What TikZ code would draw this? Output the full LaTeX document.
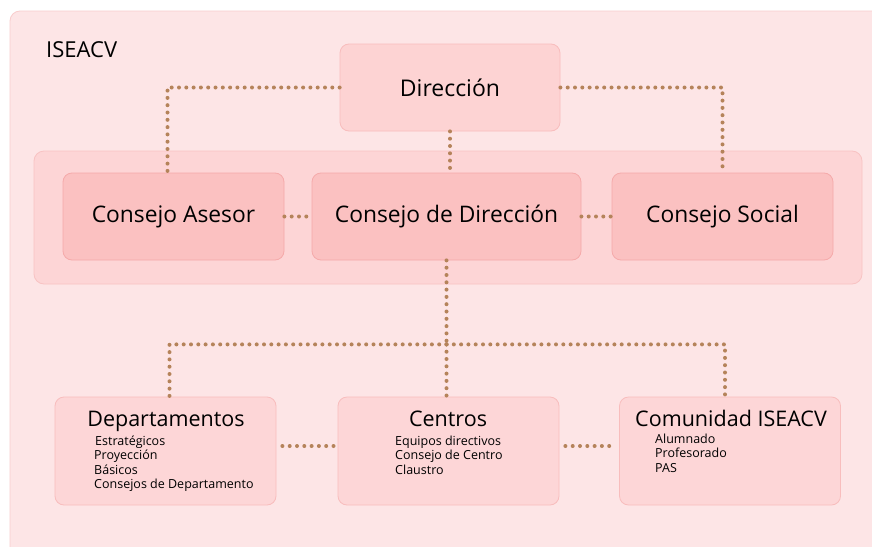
\documentclass[tikz,border=0pt]{standalone}
\usepackage{fontspec}
\setmainfont{Open Sans}
\usetikzlibrary{calc}
\definecolor{outerfill}{HTML}{FDE5E6}
\definecolor{outerline}{HTML}{F9CDCD}
\definecolor{bandfill}{HTML}{FDD5D6}
\definecolor{bandline}{HTML}{F8C3C3}
\definecolor{councilfill}{HTML}{FBC1C1}
\definecolor{councilline}{HTML}{F5AAAA}
\definecolor{dirfill}{HTML}{FDD3D3}
\definecolor{lowfill}{HTML}{FDD6D7}
\definecolor{lowline}{HTML}{F8BDBD}
\definecolor{dotcol}{HTML}{B5835A}
\tikzset{
  x=1pt, y=-1pt,
  council/.style={draw=councilline, fill=councilfill, rounded corners=9pt, line width=0.8pt,
    minimum width=221pt, minimum height=87pt, inner sep=0pt, font=\fontsize{22.8}{26}\selectfont},
  topbox/.style={draw=lowline, fill=dirfill, rounded corners=9pt, line width=0.8pt,
    minimum width=220pt, minimum height=87pt, inner sep=0pt, font=\fontsize{23}{26}\selectfont},
  lowbox/.style={draw=lowline, fill=lowfill, rounded corners=9pt, line width=0.8pt,
    minimum width=221pt, minimum height=108pt, inner sep=0pt},
  lowtitle/.style={font=\fontsize{21.5}{24}\selectfont, inner sep=0pt, anchor=base},
  items/.style={font=\fontsize{12.5}{14.5}\selectfont, align=left, anchor=north west, inner sep=0pt},
  dotline/.style={draw=dotcol, line width=4pt, line cap=round, dash pattern=on 0pt off 7.3pt},
}
\begin{document}
\begin{tikzpicture}
\useasboundingbox (0,0) rectangle (872,546);
\clip (0,0) rectangle (872,546);
\fill[white] (0,0) rectangle (872,546);
% outer frame
\draw[outerline, fill=outerfill, rounded corners=10pt, line width=0.8pt] (10,11) rectangle (900,580);
\node[anchor=base west, inner sep=0pt, font=\fontsize{22}{26}\selectfont] (title) at (46,57) {ISEACV};
% middle band
\draw[bandline, fill=bandfill, rounded corners=10pt, line width=0.8pt] (34,151) rectangle (862,284);
% nodes
\node[topbox] (dir) at (450,87.5) {Dirección};
\node[council] (ase) at (173.5,216.5) {Consejo Asesor};
\node[council, minimum width=269pt] (cd) at (446.5,216.5) {Consejo de Dirección};
\node[council] (soc) at (722.5,216.5) {Consejo Social};
\node[lowbox] (dep) at (165.5,451) {};
\node[lowbox] (cen) at (448.5,451) {};
\node[lowbox] (com) at (730,451) {};
\node[lowtitle] (dept) at (166,426) {Departamentos};
\node[lowtitle] (cent) at (448,426) {Centros};
\node[lowtitle] (comt) at (731,426) {Comunidad ISEACV};
\node[items] (depi) at (94,435.5) {\hspace*{1pt}Estratégicos\\Proyección\\Básicos\\Consejos de Departamento};
\node[items] (ceni) at (395,435.5) {Equipos directivos\\Consejo de Centro\\Claustro};
\node[items] (comi) at (655,433.5) {Alumnado\\Profesorado\\PAS};
% connectors
\coordinate (hub) at ($(cd.south)+(0,84)$);
\draw[dotline] (dir.west) -| ($(ase.north)+(-6,0)$);
\draw[dotline] (dir.east) -| (soc.north);
\draw[dotline] (dir.south) -- (dir.south |- cd.north);
\draw[dotline] (ase.east) -- (cd.west);
\draw[dotline] (cd.east) -- (soc.west);
\draw[dotline] (cd.south) -- (hub);
\draw[dotline] (hub) -| ($(dep.north)+(4,0)$);
\draw[dotline] (hub) -| ($(com.north)+(-5,0)$);
\draw[dotline] (hub) -- (hub |- cen.north);
\draw[dotline] ($(dep.east)+(6,-5)$) -- ($(cen.west)+(-4,-5)$);
\draw[dotline] ($(cen.east)+(6,-5)$) -- ($(com.west)+(-4,-5)$);
\end{tikzpicture}
\end{document}
